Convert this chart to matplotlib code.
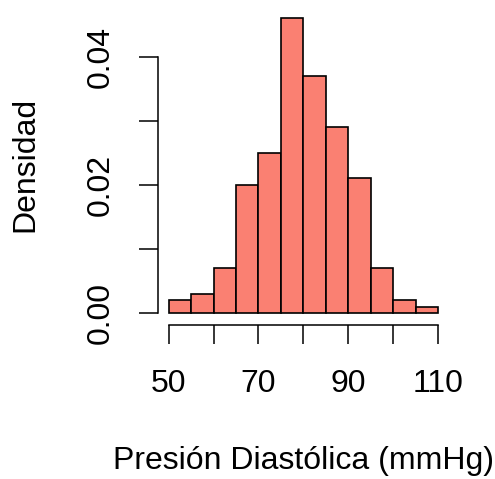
import numpy as np
import matplotlib
matplotlib.use("Agg")
import matplotlib.pyplot as plt

plt.rcParams["font.family"] = ["Liberation Sans", "DejaVu Sans"]

# histogram of diastolic pressure, 5 mmHg bins (density scale)
bin_edges = [50, 55, 60, 65, 70, 75, 80, 85, 90, 95, 100, 105, 110]
densities = [0.002, 0.003, 0.007, 0.020, 0.025, 0.046, 0.037, 0.029, 0.021, 0.007, 0.002, 0.001]
x_ticks = [50, 60, 70, 80, 90, 100, 110]
x_labels = ["50", "", "70", "", "90", "", "110"]
y_ticks = [0.00, 0.01, 0.02, 0.03, 0.04]
y_labels = ["0.00", "", "0.02", "", "0.04"]

fig = plt.figure(figsize=(4.95, 4.79), dpi=100)
ax = fig.add_axes([0.3192, 0.3213, 0.5873, 0.6658])

left = np.array(bin_edges[:-1])
widths = np.diff(bin_edges)
ax.bar(left, densities, width=widths, align="edge", color="#FA8072",
       edgecolor="black", linewidth=1.2)

# R-style padding of 4% on each side
xr = bin_edges[-1] - bin_edges[0]
ax.set_xlim(bin_edges[0] - 0.04 * xr, bin_edges[-1] + 0.04 * xr)
ymax = max(densities)
ax.set_ylim(-0.04 * ymax, ymax * 1.04)

for s in ["top", "right"]:
    ax.spines[s].set_visible(False)
for s in ["left", "bottom"]:
    ax.spines[s].set_linewidth(1.1)
ax.spines["left"].set_bounds(y_ticks[0], y_ticks[-1])
ax.spines["bottom"].set_bounds(x_ticks[0], x_ticks[-1])

ax.set_xticks(x_ticks)
ax.set_xticklabels(x_labels)
ax.set_yticks(y_ticks)
ax.set_yticklabels(y_labels, rotation=90, va="center")

ax.tick_params(axis="both", direction="out", length=13.5, width=1.1, labelsize=23)
ax.tick_params(axis="x", pad=18)
ax.tick_params(axis="y", pad=17)

fig.text(0.614, 0.038, "Presión Diastólica (mmHg)", ha="center", va="center", fontsize=23)
fig.text(0.051, 0.657, "Densidad", ha="center", va="center", rotation=90, fontsize=23)

plt.savefig("out.png", dpi=100)
plt.close()
